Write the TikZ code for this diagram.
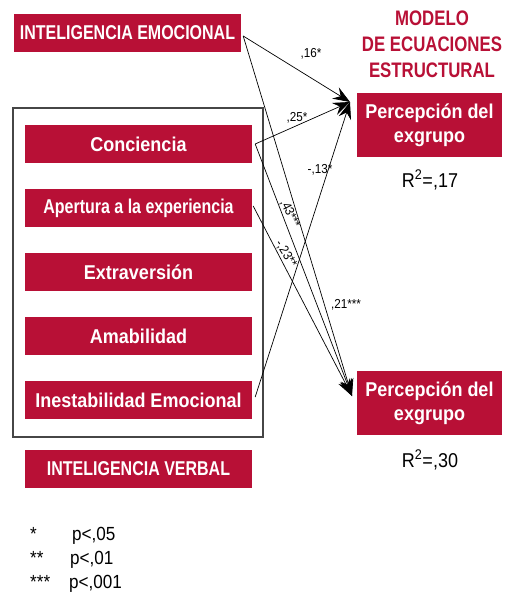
\documentclass[tikz,border=0pt]{standalone}
\usepackage{fontspec}
\setmainfont{Liberation Sans}[FakeStretch=0.9]
\newfontfamily\capsfont{Liberation Sans}[FakeStretch=0.8]
\usetikzlibrary{arrows.meta}
\definecolor{crimson}{RGB}{184,16,54}
\definecolor{framegray}{RGB}{70,70,70}

\begin{document}
\begin{tikzpicture}[x=1pt,y=-1pt,
    redbox/.style={fill=crimson,text=white,inner sep=0pt,align=center,
      font=\bfseries\fontsize{20}{24}\selectfont},
    traitbox/.style={redbox,minimum width=227pt,minimum height=38pt},
    outbox/.style={redbox,minimum width=145pt,minimum height=64pt},
    effarrow/.style={-{Stealth[length=17pt,width=13pt,inset=6pt]},line width=.7pt},
    coef/.style={font=\fontsize{13}{15}\selectfont,inner sep=0pt},
    legend/.style={anchor=base west,inner sep=0pt,font=\fontsize{19}{22}\selectfont}]
    \useasboundingbox (0,0) rectangle (509,595);
    % predictors
    \node[traitbox,font=\capsfont\bfseries\fontsize{20}{24}\selectfont] (ie) at (127.5,33) {INTELIGENCIA EMOCIONAL};
    \draw[framegray,line width=1.2pt] (13,108) rectangle (263,437);
    \node[traitbox] (conc) at (138.5,144) {Conciencia};
    \node[traitbox,font=\capsfont\bfseries\fontsize{20}{24}\selectfont] (aper) at (138.5,208) {Apertura a la experiencia};
    \node[traitbox] (extr) at (138.5,272) {Extraversión};
    \node[traitbox] (amab) at (138.5,336) {Amabilidad};
    \node[traitbox] (inest) at (138.5,400) {Inestabilidad Emocional};
    \node[traitbox,font=\capsfont\bfseries\fontsize{20}{24}\selectfont] (iv) at (138.5,468.5) {INTELIGENCIA VERBAL};
    % outcomes
    \node[align=center,text=crimson,font=\capsfont\bfseries\fontsize{21}{26}\selectfont] (title) at (432,44)
      {MODELO\\DE ECUACIONES\\ESTRUCTURAL};
    \node[outbox] (pexA) at (429.5,125) {Percepción del\\exgrupo};
    \node[outbox] (pexB) at (429.5,403) {Percepción del\\exgrupo};
    \node[font=\fontsize{20}{24}\selectfont] (rA) at (430,180) {R\textsuperscript{2}=,17};
    \node[font=\fontsize{20}{24}\selectfont] (rB) at (430,460) {R\textsuperscript{2}=,30};
    \coordinate (tgtA) at (350,102);
    \coordinate (tgtB) at (352,396);
    % paths
    \draw[effarrow] ([xshift=2pt,yshift=-3pt]ie.east) -- (tgtA);
    \draw[effarrow] ([xshift=2pt,yshift=-3pt]ie.east) -- (tgtB);
    \draw[effarrow] ([xshift=3pt]conc.east) -- (tgtA);
    \draw[effarrow] ([xshift=3pt]conc.east) -- (tgtB);
    \draw[effarrow] ([xshift=1pt,yshift=2pt]aper.east) -- (tgtB);
    \draw[effarrow] ([xshift=3pt,yshift=3pt]inest.east) -- (tgtA);
    \node[coef] at (311,54) {,16*};
    \node[coef] at (297,118) {,25*};
    \node[coef] at (320,170) {-,13*};
    \node[coef,rotate=-64] at (290,214) {,43***};
    \node[coef,rotate=-58] at (286,254) {-,23**};
    \node[coef] at (346,305) {,21***};
    % legend
    \node[legend] (s1) at (30,540) {*};
    \node[legend] (p1) at (72,540) {p<,05};
    \node[legend] (s2) at (30,564) {**};
    \node[legend] (p2) at (70,564) {p<,01};
    \node[legend] (s3) at (30,588) {***};
    \node[legend] (p3) at (69,588) {p<,001};
\end{tikzpicture}
\end{document}
